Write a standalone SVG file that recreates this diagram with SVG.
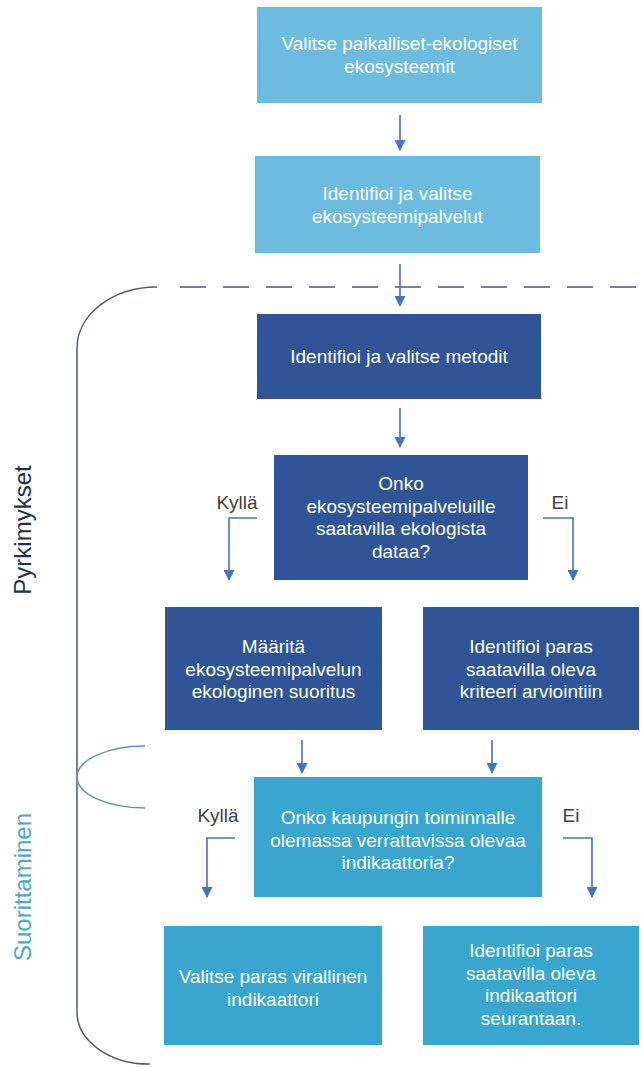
<svg xmlns="http://www.w3.org/2000/svg" width="642" height="1068" viewBox="0 0 642 1068">
<style>
  .t { font-family: "Liberation Sans", Arial, sans-serif; font-size: 19px; fill: #ffffff; text-anchor: middle; }
  .lbl { font-family: "Liberation Sans", Arial, sans-serif; font-size: 19px; fill: #404040; text-anchor: middle; }
  .side { font-family: "Liberation Sans", Arial, sans-serif; font-size: 24px; text-anchor: middle; }
  .light { fill: #6CBCE0; }
  .dark { fill: #2F5597; }
  .teal { fill: #38A6CE; }
  .arr { stroke: #4472C4; stroke-width: 1.6; fill: none; marker-end: url(#ah); }
  .bracket { stroke: #525A6E; stroke-width: 1.5; fill: none; }
</style>
<defs>
  <marker id="ah" markerUnits="userSpaceOnUse" markerWidth="11" markerHeight="11" refX="10" refY="5.5" orient="auto" viewBox="0 0 11 11">
    <path d="M0,0 L11,5.5 L0,11 z" fill="#4472C4"/>
  </marker>
</defs>
<rect width="642" height="1068" fill="#ffffff"/>

<g id="bracket">
  <path class="bracket" d="M157,287 A80,61 0 0 0 77,348 L77,1012 A72,52 0 0 0 150,1064"/>
  <line x1="180" y1="287" x2="642" y2="287" stroke="#4A5A7A" stroke-width="1.5" stroke-dasharray="26 17"/>
  <path d="M145,746 A68,31 0 0 0 145,808" stroke="#5B95C5" stroke-width="1.5" fill="none"/>
</g>

<g id="side-labels">
  <text class="side" fill="#1F3050" transform="translate(31,530) rotate(-90)">Pyrkimykset</text>
  <text class="side" fill="#4BA8C8" transform="translate(31,887) rotate(-90)">Suorittaminen</text>
</g>

<g id="connectors">
  <line class="arr" x1="400" y1="115" x2="400" y2="150"/>
  <line class="arr" x1="400" y1="264" x2="400" y2="306"/>
  <line class="arr" x1="400" y1="408" x2="400" y2="447"/>
  <polyline class="arr" points="257,518 229,518 229,580"/>
  <polyline class="arr" points="543,518 573,518 573,580"/>
  <line class="arr" x1="302" y1="740" x2="302" y2="773"/>
  <line class="arr" x1="492" y1="740" x2="492" y2="773"/>
  <polyline class="arr" points="235,838 207,838 207,897"/>
  <polyline class="arr" points="563,838 592,838 592,897"/>
  <text class="lbl" x="237" y="509">Kyllä</text>
  <text class="lbl" x="560" y="509">Ei</text>
  <text class="lbl" x="218" y="822">Kyllä</text>
  <text class="lbl" x="571" y="822">Ei</text>
</g>

<g id="n1">
  <rect class="light" x="257" y="7" width="285" height="96"/>
  <text class="t" x="399.5" y="50">Valitse paikalliset-ekologiset</text>
  <text class="t" x="399.5" y="73">ekosysteemit</text>
</g>
<g id="n2">
  <rect class="light" x="255" y="156" width="285" height="97"/>
  <text class="t" x="397.5" y="200">Identifioi ja valitse</text>
  <text class="t" x="397.5" y="223">ekosysteemipalvelut</text>
</g>
<g id="n3">
  <rect class="dark" x="257" y="314" width="284" height="85"/>
  <text class="t" x="399" y="363">Identifioi ja valitse metodit</text>
</g>
<g id="n4">
  <rect class="dark" x="274" y="455" width="254" height="125"/>
  <text class="t" x="401" y="490">Onko</text>
  <text class="t" x="401" y="512.5">ekosysteemipalveluille</text>
  <text class="t" x="401" y="535">saatavilla ekologista</text>
  <text class="t" x="401" y="557.5">dataa?</text>
</g>
<g id="n5">
  <rect class="dark" x="165" y="607" width="217" height="123"/>
  <text class="t" x="273.5" y="653">Määritä</text>
  <text class="t" x="273.5" y="675.5">ekosysteemipalvelun</text>
  <text class="t" x="273.5" y="698">ekologinen suoritus</text>
</g>
<g id="n6">
  <rect class="dark" x="423" y="607" width="216" height="123"/>
  <text class="t" x="531" y="653">Identifioi paras</text>
  <text class="t" x="531" y="675.5">saatavilla oleva</text>
  <text class="t" x="531" y="698">kriteeri arviointiin</text>
</g>
<g id="n7">
  <rect class="teal" x="254" y="777" width="288" height="120"/>
  <text class="t" x="398" y="824">Onko kaupungin toiminnalle</text>
  <text class="t" x="398" y="846.5">olemassa verrattavissa olevaa</text>
  <text class="t" x="398" y="869">indikaattoria?</text>
</g>
<g id="n8">
  <rect class="teal" x="164" y="926" width="218" height="119"/>
  <text class="t" x="273" y="983">Valitse paras virallinen</text>
  <text class="t" x="273" y="1006">indikaattori</text>
</g>
<g id="n9">
  <rect class="teal" x="423" y="926" width="216" height="119"/>
  <text class="t" x="531" y="957">Identifioi paras</text>
  <text class="t" x="531" y="979.5">saatavilla oleva</text>
  <text class="t" x="531" y="1002">indikaattori</text>
  <text class="t" x="531" y="1024.5">seurantaan.</text>
</g>
</svg>
